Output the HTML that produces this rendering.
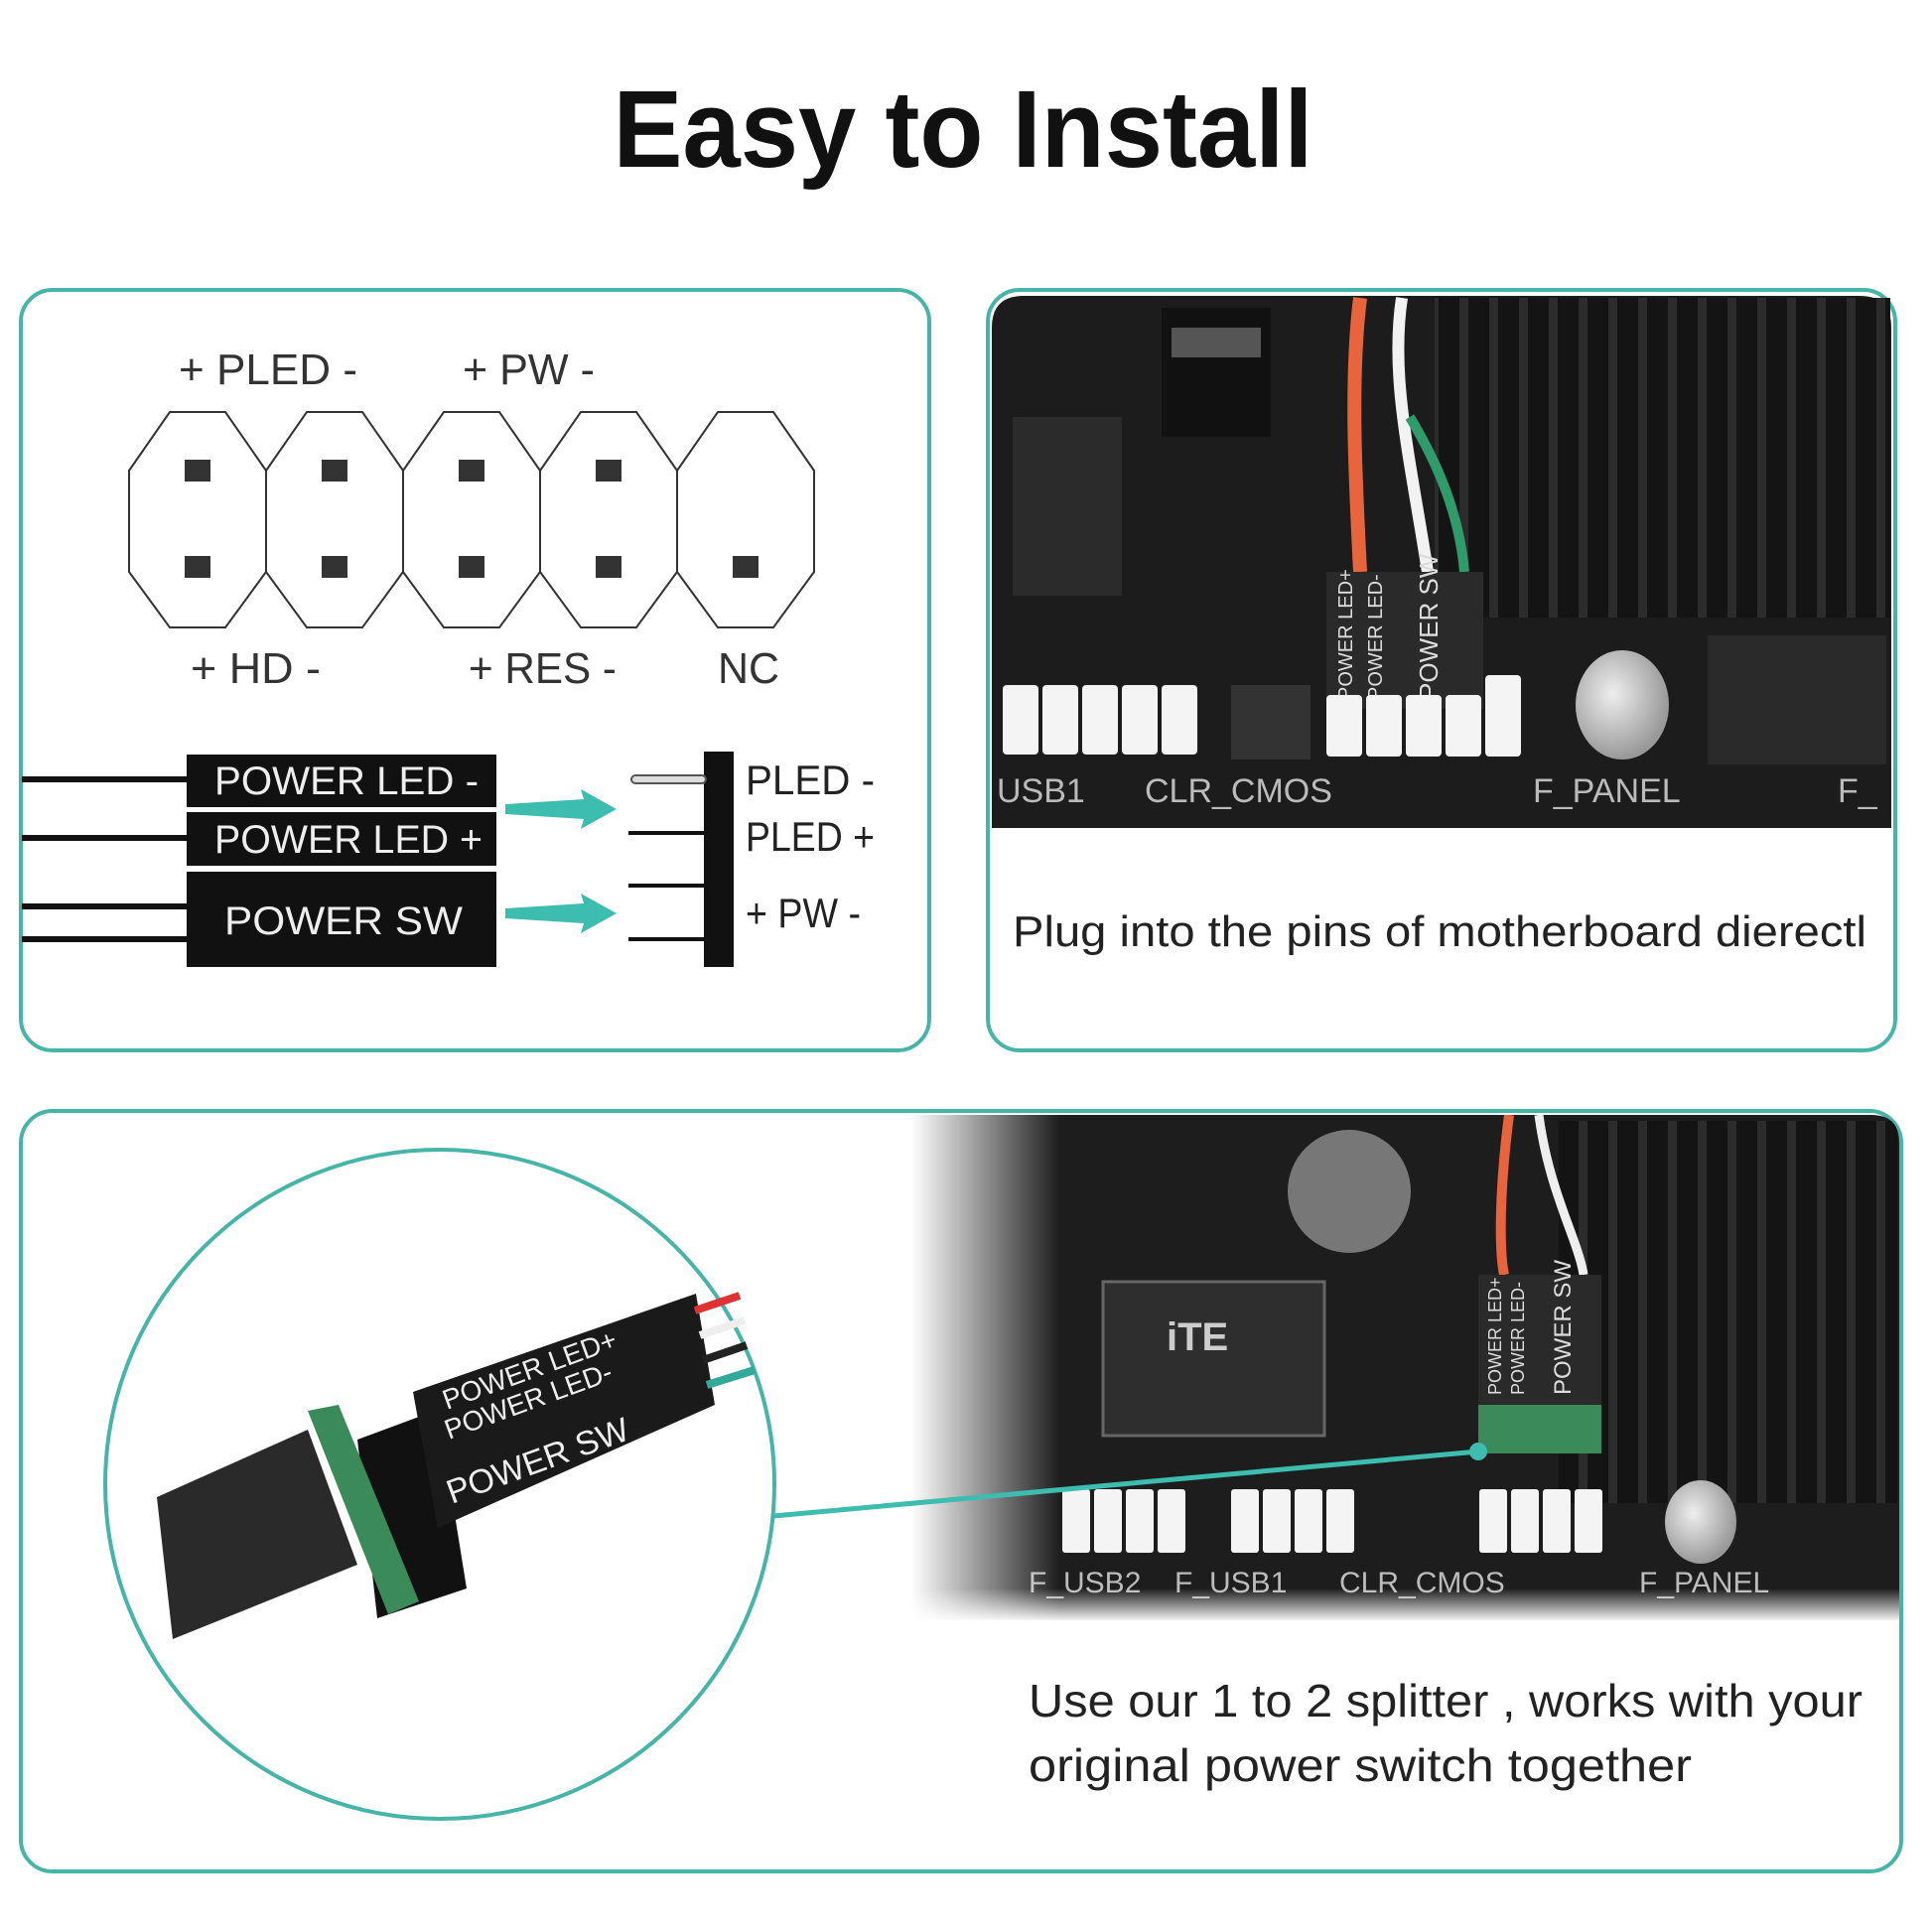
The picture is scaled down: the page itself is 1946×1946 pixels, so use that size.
<!DOCTYPE html>
<html><head><meta charset="utf-8"><style>
html,body{margin:0;padding:0;background:#fff;}
svg{display:block;}
text{font-family:"Liberation Sans",sans-serif;}
</style></head><body>
<svg width="1946" height="1946" viewBox="0 0 1946 1946" xmlns="http://www.w3.org/2000/svg">
<defs>
<linearGradient id="fadeL" x1="0" x2="1" y1="0" y2="0">
<stop offset="0" stop-color="#fff" stop-opacity="1"/>
<stop offset="1" stop-color="#fff" stop-opacity="0"/>
</linearGradient>
<linearGradient id="fadeB" x1="0" x2="0" y1="0" y2="1">
<stop offset="0" stop-color="#fff" stop-opacity="0"/>
<stop offset="1" stop-color="#fff" stop-opacity="1"/>
</linearGradient>
<pattern id="fins" width="30" height="10" patternUnits="userSpaceOnUse">
<rect width="30" height="10" fill="#141414"/>
<rect x="0" width="9" height="10" fill="#2c2c2c"/>
</pattern>
<radialGradient id="cap" cx="0.4" cy="0.4" r="0.6">
<stop offset="0" stop-color="#eee"/><stop offset="1" stop-color="#999"/>
</radialGradient>
<clipPath id="bclip"><path d="M918,1123 L1885,1123 Q1913,1123 1913,1151 L1913,1632 L918,1632 Z"/></clipPath>
</defs>

<text x="970" y="168" font-size="110" font-weight="bold" text-anchor="middle" textLength="705" lengthAdjust="spacingAndGlyphs" fill="#111">Easy to Install</text>

<rect x="21" y="292" width="915" height="766" rx="32" fill="#fff" stroke="#46b5a8" stroke-width="4"/>
<g fill="#333" font-size="44">
<text x="180" y="387" textLength="180" lengthAdjust="spacingAndGlyphs">+ PLED -</text>
<text x="466" y="387" textLength="133" lengthAdjust="spacingAndGlyphs">+ PW -</text>
<text x="192" y="688" textLength="131" lengthAdjust="spacingAndGlyphs">+ HD -</text>
<text x="472" y="688" textLength="149" lengthAdjust="spacingAndGlyphs">+ RES -</text>
<text x="723" y="688" textLength="62" lengthAdjust="spacingAndGlyphs">NC</text>
</g>
<g fill="#fff" stroke="#333" stroke-width="2">
<polygon points="130,474 171,415 227,415 268,474 268,576 227,632 171,632 130,576"/>
<polygon points="268,474 309,415 365,415 406,474 406,576 365,632 309,632 268,576"/>
<polygon points="406,474 447,415 503,415 544,474 544,576 503,632 447,632 406,576"/>
<polygon points="544,474 585,415 641,415 682,474 682,576 641,632 585,632 544,576"/>
<polygon points="682,474 723,415 779,415 820,474 820,576 779,632 723,632 682,576"/>
</g>
<g fill="#333">
<rect x="186" y="463" width="26" height="22"/><rect x="186" y="560" width="26" height="22"/>
<rect x="324" y="463" width="26" height="22"/><rect x="324" y="560" width="26" height="22"/>
<rect x="462" y="463" width="26" height="22"/><rect x="462" y="560" width="26" height="22"/>
<rect x="600" y="463" width="26" height="22"/><rect x="600" y="560" width="26" height="22"/>
<rect x="738" y="560" width="26" height="22"/>
</g>
<g stroke="#111" stroke-width="6">
<line x1="22" y1="785" x2="190" y2="785"/>
<line x1="22" y1="844" x2="190" y2="844"/>
<line x1="22" y1="913" x2="190" y2="913"/>
<line x1="22" y1="946" x2="190" y2="946"/>
</g>
<rect x="188" y="760" width="312" height="53" fill="#111"/>
<rect x="188" y="818" width="312" height="54" fill="#111"/>
<rect x="188" y="878" width="312" height="96" fill="#111"/>
<g fill="#eee" font-size="40">
<text x="216" y="800" textLength="266" lengthAdjust="spacingAndGlyphs">POWER  LED -</text>
<text x="216" y="859" textLength="270" lengthAdjust="spacingAndGlyphs">POWER  LED +</text>
<text x="226" y="941" textLength="240" lengthAdjust="spacingAndGlyphs">POWER  SW</text>
</g>
<g fill="#3dbcb0">
<polygon points="509,810 588,805 585,795 621,815 585,835 588,825 509,820"/>
<polygon points="509,915 588,910 585,900 621,920 585,940 588,930 509,925"/>
</g>
<rect x="709" y="757" width="30" height="217" fill="#111"/>
<rect x="636" y="781" width="75" height="8" rx="4" fill="#ddd" stroke="#555" stroke-width="2"/>
<g stroke="#111" stroke-width="4">
<line x1="633" y1="839" x2="709" y2="839"/>
<line x1="633" y1="892" x2="709" y2="892"/>
<line x1="633" y1="946" x2="709" y2="946"/>
</g>
<g fill="#222" font-size="42">
<text x="751" y="800" textLength="130" lengthAdjust="spacingAndGlyphs">PLED  -</text>
<text x="751" y="857" textLength="130" lengthAdjust="spacingAndGlyphs">PLED +</text>
<text x="751" y="934" textLength="116" lengthAdjust="spacingAndGlyphs">+ PW -</text>
</g>

<rect x="995" y="292" width="914" height="766" rx="32" fill="#fff" stroke="#46b5a8" stroke-width="4"/>
<path d="M999,330 Q999,298 1031,298 L1873,298 Q1905,298 1905,330 L1905,834 L999,834 Z" fill="#1c1c1c"/>
<rect x="1445" y="300" width="459" height="322" fill="url(#fins)"/>
<rect x="1020" y="420" width="110" height="180" fill="#2b2b2b"/>
<rect x="1170" y="310" width="110" height="130" fill="#111"/>
<rect x="1180" y="330" width="90" height="30" fill="#555"/>
<path d="M1370,300 C1360,380 1365,480 1370,576" stroke="#e8643c" stroke-width="14" fill="none"/>
<path d="M1412,300 C1400,380 1420,460 1438,576" stroke="#f2f2f2" stroke-width="12" fill="none"/>
<path d="M1420,420 C1450,470 1470,520 1475,576" stroke="#2f9a6a" stroke-width="10" fill="none"/>
<rect x="1336" y="576" width="158" height="138" fill="#2a2a2a"/>
<g fill="#ddd" font-size="20">
<text transform="translate(1362,705) rotate(-90)">POWER LED+</text>
<text transform="translate(1392,705) rotate(-90)">POWER LED-</text>
<text transform="translate(1448,705) rotate(-90)" font-size="26">POWER SW</text>
</g>
<g fill="#f4f4f4">
<rect x="1010" y="690" width="36" height="70" rx="4"/><rect x="1050" y="690" width="36" height="70" rx="4"/>
<rect x="1090" y="690" width="36" height="70" rx="4"/><rect x="1130" y="690" width="36" height="70" rx="4"/>
<rect x="1170" y="690" width="36" height="70" rx="4"/>
<rect x="1336" y="700" width="36" height="62" rx="4"/><rect x="1376" y="700" width="36" height="62" rx="4"/>
<rect x="1416" y="700" width="36" height="62" rx="4"/><rect x="1456" y="700" width="36" height="62" rx="4"/>
<rect x="1496" y="680" width="36" height="82" rx="4"/>
</g>
<rect x="1240" y="690" width="80" height="75" fill="#333"/>
<ellipse cx="1634" cy="710" rx="47" ry="55" fill="url(#cap)"/>
<rect x="1720" y="640" width="180" height="130" fill="#2a2a2a"/>
<g fill="#bbb" font-size="34">
<text x="1004" y="808">USB1</text>
<text x="1153" y="808">CLR_CMOS</text>
<text x="1544" y="808">F_PANEL</text>
<text x="1851" y="808">F_</text>
</g>
<text x="1020" y="953" font-size="44" fill="#222" textLength="860" lengthAdjust="spacingAndGlyphs">Plug into the pins of motherboard dierectl</text>

<rect x="21" y="1119" width="1894" height="766" rx="32" fill="#fff" stroke="#46b5a8" stroke-width="4"/>
<g clip-path="url(#bclip)">
<rect x="918" y="1123" width="995" height="509" fill="#1d1d1d"/>
<rect x="1570" y="1129" width="341" height="385" fill="url(#fins)"/>
<circle cx="1359" cy="1200" r="62" fill="#777"/>
<rect x="1111" y="1291" width="223" height="155" fill="#2e2e2e" stroke="#666" stroke-width="3"/>
<text x="1175" y="1360" font-size="40" font-weight="bold" fill="#ccc">iTE</text>
<path d="M1520,1123 C1510,1200 1510,1260 1515,1284" stroke="#e8643c" stroke-width="10" fill="none"/>
<path d="M1550,1123 C1560,1200 1590,1250 1595,1284" stroke="#eee" stroke-width="9" fill="none"/>
<rect x="1489" y="1284" width="124" height="180" fill="#2a2a2a"/>
<rect x="1489" y="1415" width="124" height="49" fill="#3a8a5a"/>
<g fill="#ddd" font-size="18">
<text transform="translate(1512,1405) rotate(-90)">POWER LED+</text>
<text transform="translate(1535,1405) rotate(-90)">POWER LED-</text>
<text transform="translate(1582,1405) rotate(-90)" font-size="24">POWER SW</text>
</g>
<g fill="#f4f4f4">
<rect x="1070" y="1500" width="28" height="64" rx="3"/><rect x="1102" y="1500" width="28" height="64" rx="3"/>
<rect x="1134" y="1500" width="28" height="64" rx="3"/><rect x="1166" y="1500" width="28" height="64" rx="3"/>
<rect x="1240" y="1500" width="28" height="64" rx="3"/><rect x="1272" y="1500" width="28" height="64" rx="3"/>
<rect x="1304" y="1500" width="28" height="64" rx="3"/><rect x="1336" y="1500" width="28" height="64" rx="3"/>
<rect x="1490" y="1500" width="28" height="64" rx="3"/><rect x="1522" y="1500" width="28" height="64" rx="3"/>
<rect x="1554" y="1500" width="28" height="64" rx="3"/><rect x="1586" y="1500" width="28" height="64" rx="3"/>
</g>
<ellipse cx="1713" cy="1533" rx="36" ry="42" fill="url(#cap)"/>
<g fill="#bbb" font-size="30">
<text x="1036" y="1604">F_USB2</text>
<text x="1183" y="1604">F_USB1</text>
<text x="1349" y="1604">CLR_CMOS</text>
<text x="1651" y="1604">F_PANEL</text>
</g>
<rect x="918" y="1123" width="150" height="509" fill="url(#fadeL)"/>
<rect x="918" y="1600" width="995" height="34" fill="url(#fadeB)"/>
</g>
<circle cx="443" cy="1495" r="337" fill="#fff" stroke="#46b5a8" stroke-width="4"/>
<line x1="779" y1="1527" x2="1489" y2="1462" stroke="#3dbcb0" stroke-width="5"/>
<circle cx="1489" cy="1462" r="9" fill="#3dbcb0"/>
<polygon points="158,1508 310,1440 360,1576 174,1651" fill="#2a2a2a"/>
<polygon points="360,1450 441,1420 470,1600 380,1630" fill="#111"/>
<polygon points="416,1402 701,1303 720,1415 441,1539" fill="#1a1a1a"/>
<polygon points="310,1421 341,1415 422,1613 391,1626" fill="#3a8a5a"/>
<g stroke-width="8">
<line x1="700" y1="1320" x2="745" y2="1305" stroke="#d33"/>
<line x1="705" y1="1345" x2="750" y2="1330" stroke="#eee"/>
<line x1="708" y1="1370" x2="752" y2="1355" stroke="#222"/>
<line x1="712" y1="1395" x2="760" y2="1380" stroke="#3a9"/>
</g>
<g fill="#eee" font-size="28">
<text transform="translate(450,1420) rotate(-20)">POWER LED+</text>
<text transform="translate(452,1450) rotate(-20)">POWER LED-</text>
<text transform="translate(455,1515) rotate(-20)" font-size="34">POWER SW</text>
</g>
<g fill="#222" font-size="46">
<text x="1036" y="1729" textLength="840" lengthAdjust="spacingAndGlyphs">Use our 1 to 2 splitter , works with your</text>
<text x="1036" y="1794" textLength="668" lengthAdjust="spacingAndGlyphs">original power switch together</text>
</g>
</svg>
</body></html>
